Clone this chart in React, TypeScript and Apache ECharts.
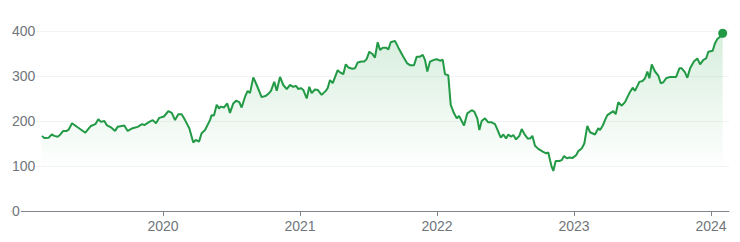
import React, { useEffect, useRef } from "react";
import * as echarts from "echarts";

// Time positions as decimal years
const dates: number[] = [
  2019.117, 2019.134, 2019.166, 2019.188, 2019.207, 2019.231, 2019.248, 2019.272, 2019.297, 2019.312,
  2019.336, 2019.377, 2019.433, 2019.474, 2019.506, 2019.528, 2019.547, 2019.572, 2019.589, 2019.62,
  2019.65, 2019.669, 2019.718, 2019.742, 2019.779, 2019.815, 2019.847, 2019.864, 2019.9, 2019.925,
  2019.949, 2019.973, 2020.007, 2020.039, 2020.064, 2020.088, 2020.112, 2020.136, 2020.161, 2020.192,
  2020.221, 2020.239, 2020.263, 2020.282, 2020.307, 2020.343, 2020.355, 2020.372, 2020.392, 2020.409,
  2020.423, 2020.445, 2020.469, 2020.489, 2020.513, 2020.533, 2020.557, 2020.574, 2020.599, 2020.618,
  2020.635, 2020.659, 2020.684, 2020.72, 2020.752, 2020.777, 2020.788, 2020.812, 2020.83, 2020.854,
  2020.878, 2020.903, 2020.927, 2020.951, 2020.971, 2020.988, 2021.007, 2021.024, 2021.049, 2021.068,
  2021.085, 2021.109, 2021.129, 2021.158, 2021.188, 2021.202, 2021.219, 2021.239, 2021.275, 2021.292,
  2021.316, 2021.334, 2021.353, 2021.382, 2021.401, 2021.421, 2021.45, 2021.469, 2021.487, 2021.506,
  2021.528, 2021.547, 2021.567, 2021.584, 2021.604, 2021.628, 2021.645, 2021.662, 2021.693, 2021.718,
  2021.754, 2021.783, 2021.803, 2021.832, 2021.852, 2021.876, 2021.896, 2021.912, 2021.929, 2021.949,
  2021.978, 2022.002, 2022.022, 2022.042, 2022.058, 2022.082, 2022.1, 2022.124, 2022.144, 2022.161,
  2022.197, 2022.221, 2022.253, 2022.272, 2022.294, 2022.309, 2022.326, 2022.35, 2022.374, 2022.399,
  2022.423, 2022.436, 2022.465, 2022.484, 2022.504, 2022.52, 2022.54, 2022.557, 2022.577, 2022.601,
  2022.618, 2022.642, 2022.662, 2022.679, 2022.696, 2022.715, 2022.739, 2022.772, 2022.796, 2022.812,
  2022.825, 2022.837, 2022.849, 2022.866, 2022.893, 2022.91, 2022.927, 2022.947, 2022.966, 2022.99,
  2023.015, 2023.031, 2023.056, 2023.075, 2023.097, 2023.117, 2023.153, 2023.177, 2023.19, 2023.21,
  2023.226, 2023.243, 2023.287, 2023.304, 2023.323, 2023.348, 2023.372, 2023.404, 2023.428, 2023.445,
  2023.477, 2023.501, 2023.518, 2023.535, 2023.55, 2023.567, 2023.591, 2023.615, 2023.633, 2023.652,
  2023.672, 2023.701, 2023.725, 2023.745, 2023.769, 2023.786, 2023.81, 2023.827, 2023.847, 2023.876,
  2023.9, 2023.92, 2023.944, 2023.964, 2023.98, 2024.012, 2024.029, 2024.046, 2024.066, 2024.085,
];

// Prices
const prices: number[] = [
  167, 162, 163, 170, 167, 165, 169, 178, 178, 181,
  195, 186, 174, 189, 193, 204, 198, 200, 191, 186,
  178, 187, 190, 178, 184, 187, 193, 191, 198, 202,
  195, 207, 210, 222, 218, 202, 215, 215, 202, 184,
  152, 158, 154, 173, 180, 202, 213, 212, 236, 228,
  232, 230, 239, 218, 239, 245, 242, 230, 254, 267,
  262, 297, 280, 253, 256, 263, 267, 287, 267, 298,
  280, 271, 280, 276, 278, 271, 273, 269, 250, 276,
  262, 270, 269, 258, 267, 273, 291, 284, 313, 308,
  304, 326, 319, 316, 317, 330, 332, 332, 338, 354,
  349, 341, 375, 358, 363, 363, 359, 375, 378, 363,
  343, 328, 324, 324, 343, 343, 347, 336, 310, 332,
  336, 337, 334, 336, 304, 302, 236, 217, 206, 211,
  190, 217, 224, 221, 206, 180, 200, 206, 197, 197,
  193, 184, 163, 170, 161, 170, 165, 169, 159, 167,
  182, 169, 161, 161, 167, 145, 138, 132, 128, 130,
  113, 98, 89, 111, 111, 113, 122, 117, 119, 118,
  124, 133, 139, 150, 189, 175, 170, 184, 180, 190,
  202, 213, 222, 215, 242, 234, 242, 262, 274, 267,
  287, 289, 295, 310, 295, 326, 310, 301, 284, 286,
  295, 298, 298, 298, 317, 317, 308, 296, 317, 333,
  339, 326, 336, 339, 354, 356, 373, 382, 387, 395,
];

const yearTicks: number[] = [2020, 2021, 2022, 2023, 2024];

const GREEN = "#229a45";
const TEXT = "#70757a";
const GRID = "#f1f3f4";
const FONT = 'Arial, "Liberation Sans", sans-serif';

export default function App() {
  const ref = useRef<HTMLDivElement>(null);

  useEffect(() => {
    if (!ref.current) return;
    const chart = echarts.init(ref.current, undefined, { renderer: "svg" });
    const seriesData = dates.map((d, i) => [d, prices[i]]);
    const last = seriesData[seriesData.length - 1];

    chart.setOption({
      animation: false,
      backgroundColor: "#ffffff",
      grid: { left: 12, right: 11, top: 31, bottom: 31, containLabel: false },
      xAxis: {
        type: "value",
        min: 2018.898,
        max: 2024.131,
        z: 0,
        splitLine: { show: false },
        axisLine: { show: true, lineStyle: { color: "#80868b", width: 1 } },
        axisTick: {
          show: true,
          customValues: yearTicks,
          length: 5,
          lineStyle: { color: "#80868b", width: 1 },
        },
        axisLabel: {
          customValues: yearTicks,
          formatter: (v: number) => String(Math.round(v)),
          color: TEXT,
          fontSize: 14,
          fontFamily: FONT,
          margin: 8,
        },
      },
      yAxis: {
        type: "value",
        min: 0,
        max: 400,
        interval: 100,
        z: 1,
        axisLine: { show: false },
        axisTick: { show: false },
        splitLine: {
          show: true,
          lineStyle: { color: ["rgba(0,0,0,0)", GRID, GRID, GRID, GRID], width: 1 },
        },
        axisLabel: {
          inside: true,
          margin: 0,
          align: "left",
          color: TEXT,
          fontSize: 14,
          fontFamily: FONT,
          backgroundColor: "#ffffff",
          padding: [0, 1, 0, 0],
        },
      },
      series: [
        {
          type: "line",
          data: seriesData,
          showSymbol: false,
          symbol: "none",
          z: 2,
          lineStyle: { color: GREEN, width: 2 },
          areaStyle: {
            origin: 100,
            color: new echarts.graphic.LinearGradient(0, 0, 0, 1, [
              { offset: 0, color: "rgba(52,168,83,0.28)" },
              { offset: 1, color: "rgba(52,168,83,0.0)" },
            ]),
          },
        },
        {
          type: "scatter",
          data: [last],
          symbol: "circle",
          symbolSize: 9,
          z: 3,
          itemStyle: { color: GREEN, opacity: 1 },
        },
      ],
    });

    return () => chart.dispose();
  }, []);

  return (
    <div
      ref={ref}
      style={{ position: "fixed", left: 0, top: 0, width: 740, height: 242 }}
    />
  );
}
